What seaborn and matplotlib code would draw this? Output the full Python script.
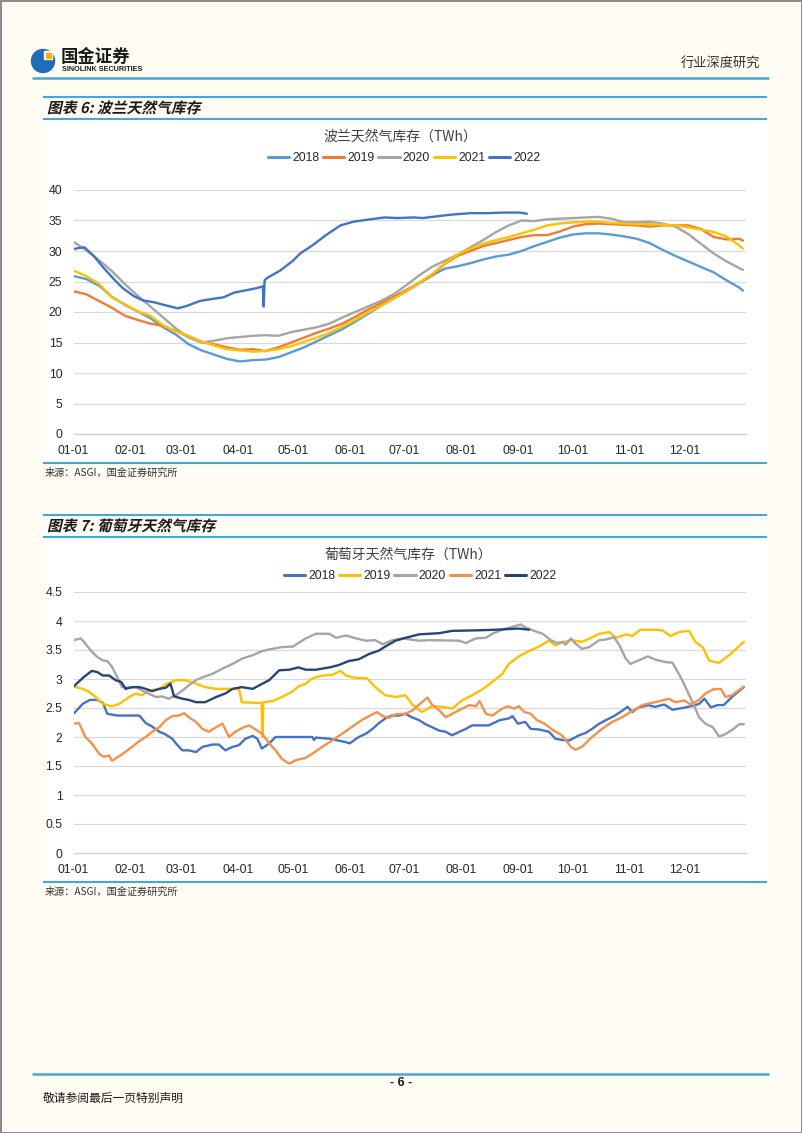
import matplotlib
matplotlib.use("Agg")
import matplotlib.pyplot as plt
import seaborn as sns
import pandas as pd
from matplotlib import font_manager
from matplotlib.font_manager import FontProperties
from matplotlib.lines import Line2D
from matplotlib.patches import Rectangle, Circle, PathPatch
from matplotlib.textpath import TextPath
from matplotlib.transforms import Affine2D

sns.set_theme(style="white")
CJK = "Noto Sans CJK SC"
plt.rcParams["font.family"] = [CJK, "DejaVu Sans"]
installed = {f.name for f in font_manager.fontManager.ttflist}
NUM = "Liberation Sans Narrow" if "Liberation Sans Narrow" in installed else "Liberation Sans"
NUM_SIZE = 10 if NUM.endswith("Narrow") else 8.8

# ---- x axis: day of year, ticks at month starts
month_days = [0, 31, 59, 90, 120, 151, 181, 212, 243, 273, 304, 334, 365]
month_labels = ["01-01", "02-01", "03-01", "04-01", "05-01", "06-01", "07-01",
                "08-01", "09-01", "10-01", "11-01", "12-01", ""]

# ---- 波兰 (Poland) storage, TWh, sampled every 7 days + year end
pl_days = list(range(0, 365, 7)) + [366]
pl_2018 = [25.9, 25.4, 24.3, 22.5, 21.2, 20.1, 19.0, 17.5, 16.3, 14.7, 13.7, 13.0, 12.3, 11.9,
           12.1, 12.2, 12.6, 13.4, 14.2, 15.2, 16.2, 17.2, 18.4, 19.7, 21.0, 22.2, 23.4, 24.7,
           26.0, 27.1, 27.5, 28.0, 28.6, 29.1, 29.4, 30.0, 30.8, 31.5, 32.2, 32.7, 32.9, 32.9,
           32.7, 32.4, 32.0, 31.3, 30.2, 29.2, 28.3, 27.4, 26.5, 25.2, 24.0, 23.5]
pl_2019 = [23.4, 22.9, 21.8, 20.7, 19.4, 18.7, 18.1, 17.7, 16.9, 15.9, 15.1, 14.7, 14.2, 13.8,
           13.9, 13.6, 14.2, 15.0, 15.8, 16.6, 17.3, 18.1, 19.2, 20.4, 21.4, 22.5, 23.6, 24.8,
           26.0, 27.9, 29.2, 30.0, 30.8, 31.3, 31.8, 32.3, 32.6, 32.6, 33.2, 34.0, 34.4, 34.5,
           34.4, 34.3, 34.2, 34.0, 34.2, 34.2, 34.2, 33.6, 32.3, 31.9, 32.0, 31.7]
pl_2020 = [31.5, 30.1, 28.5, 26.7, 24.6, 22.7, 20.9, 19.1, 17.3, 15.8, 15.0, 15.3, 15.7, 15.9,
           16.1, 16.2, 16.1, 16.7, 17.1, 17.5, 18.1, 19.1, 20.0, 20.9, 21.8, 22.9, 24.4, 26.0,
           27.4, 28.4, 29.4, 30.6, 31.8, 33.1, 34.2, 35.0, 34.9, 35.2, 35.3, 35.4, 35.5, 35.6,
           35.3, 34.7, 34.7, 34.8, 34.5, 34.0, 32.8, 31.2, 29.6, 28.3, 27.2, 26.9]
pl_2021 = [26.8, 25.9, 24.6, 22.4, 21.3, 20.1, 19.4, 17.8, 16.8, 16.1, 15.2, 14.5, 13.9, 13.7,
           13.5, 13.6, 13.9, 14.4, 15.1, 15.8, 16.6, 17.6, 18.7, 19.9, 21.0, 22.2, 23.4, 24.8,
           26.2, 28.0, 29.4, 30.4, 31.2, 31.8, 32.3, 32.9, 33.5, 34.2, 34.5, 34.7, 34.8, 34.8,
           34.6, 34.5, 34.4, 34.4, 34.3, 34.2, 33.9, 33.5, 33.1, 32.4, 30.9, 30.4]
pl_2022_days = [0, 3, 6, 11, 16, 22, 27, 33, 38, 44, 49, 53, 57, 62, 69, 77, 82, 88, 95, 100,
                103.5, 104, 104.5, 106, 113, 120, 124, 131, 138, 146, 153, 160, 170, 177, 186,
                191, 199, 208, 217, 226, 235, 244, 248]
pl_2022 = [30.3, 30.5, 30.6, 29.2, 27.4, 25.4, 23.9, 22.6, 21.9, 21.6, 21.2, 20.9, 20.6, 21.0,
           21.8, 22.2, 22.4, 23.2, 23.6, 23.9, 24.2, 20.9, 25.2, 25.6, 26.8, 28.4, 29.6, 31.0,
           32.6, 34.2, 34.8, 35.1, 35.5, 35.4, 35.5, 35.4, 35.7, 36.0, 36.2, 36.2, 36.3, 36.3, 36.1]

# ---- 葡萄牙 (Portugal) storage, TWh
pt_2018_days = [0, 5, 9, 13, 16, 18.5, 24, 30, 36, 39.5, 43, 47, 50, 54, 56, 59.5, 63, 67, 70.5,
                76, 79.5, 83, 87, 90.5, 94, 98, 100.5, 103, 107, 110.5, 120, 130.5, 131.5, 132.5,
                140, 149, 151, 156, 160, 163.5, 167, 171, 174, 178, 181.5, 185, 189, 192.5, 196,
                200, 203.5, 207, 211, 214.5, 218, 227, 233, 238, 240, 243, 247, 250, 254.5, 260,
                263.5, 267, 271, 276.5, 280, 283.5, 287.5, 291, 295.5, 299, 303, 305.5, 309,
                314.5, 318, 323, 327.5, 333, 337.5, 342, 345, 348.5, 352, 355.5, 360, 366.5]
pt_2018 = [2.40, 2.57, 2.64, 2.64, 2.59, 2.40, 2.37, 2.37, 2.37, 2.24, 2.18, 2.09, 2.05, 1.97,
           1.89, 1.77, 1.77, 1.74, 1.83, 1.87, 1.87, 1.77, 1.83, 1.86, 1.97, 2.02, 1.97, 1.80,
           1.89, 2.00, 2.00, 2.00, 1.95, 1.99, 1.97, 1.91, 1.89, 2.00, 2.06, 2.14, 2.24, 2.33,
           2.37, 2.37, 2.40, 2.34, 2.29, 2.22, 2.17, 2.11, 2.09, 2.03, 2.09, 2.14, 2.20, 2.20,
           2.29, 2.32, 2.36, 2.23, 2.26, 2.14, 2.13, 2.09, 1.97, 1.95, 1.94, 2.03, 2.07, 2.14,
           2.23, 2.29, 2.36, 2.43, 2.52, 2.43, 2.51, 2.55, 2.52, 2.56, 2.47, 2.50, 2.53, 2.57,
           2.66, 2.51, 2.55, 2.55, 2.69, 2.86]
pt_2019_days = [0, 5, 8.5, 12, 16, 21, 25, 30.5, 34, 37.5, 41, 47, 50.5, 56, 61, 67, 72, 78, 83,
                90.5, 92, 98, 102.8, 103.3, 103.8, 109, 114, 119.5, 123, 127, 130.5, 136, 141.5,
                146, 149, 154, 160.5, 165, 170.5, 176, 181.5, 185, 190.5, 196, 201.5, 207, 212.5,
                218, 223.5, 229, 234.5, 238, 243.5, 249, 254.5, 260, 263.5, 268, 272.5, 278, 283,
                287.5, 293, 296.5, 302, 305.5, 310, 316.5, 322, 326.5, 331, 336.5, 340, 344,
                347.5, 351, 353, 358.5, 366.5]
pt_2019 = [2.87, 2.83, 2.78, 2.69, 2.57, 2.53, 2.57, 2.69, 2.75, 2.72, 2.80, 2.83, 2.91, 2.98,
           2.98, 2.92, 2.86, 2.83, 2.83, 2.83, 2.60, 2.59, 2.59, 2.00, 2.60, 2.62, 2.69, 2.78,
           2.87, 2.92, 3.01, 3.06, 3.07, 3.14, 3.06, 3.02, 3.01, 2.86, 2.72, 2.69, 2.72, 2.57,
           2.43, 2.53, 2.52, 2.49, 2.63, 2.72, 2.82, 2.95, 3.09, 3.26, 3.39, 3.48, 3.56, 3.66,
           3.58, 3.64, 3.67, 3.64, 3.71, 3.78, 3.81, 3.71, 3.77, 3.74, 3.85, 3.85, 3.84, 3.74,
           3.81, 3.83, 3.64, 3.55, 3.32, 3.29, 3.28, 3.41, 3.64]
pt_2020_days = [0, 4, 6.5, 9.5, 13, 16, 18.5, 21, 24, 26.5, 30.5, 34, 37.5, 41, 45, 48.5, 52, 56,
                59.5, 63, 67, 70.5, 76, 81.5, 87, 92, 98, 103, 108.5, 114, 120, 127, 132.5, 140,
                143.5, 149, 154.5, 160, 165, 169, 174.5, 180, 189, 194.5, 211, 214.5, 220, 225.5,
                229, 234.5, 240, 244.5, 247, 251, 256.5, 261, 264.5, 267.5, 269, 272, 274.5, 278,
                282, 287.5, 291, 295.5, 298.5, 302, 304.5, 309, 314, 318.5, 324, 327.5, 332,
                335.5, 339.5, 342, 345.5, 349.5, 353, 356.5, 360.5, 364, 366.5]
pt_2020 = [3.67, 3.70, 3.61, 3.49, 3.38, 3.32, 3.31, 3.21, 3.03, 2.86, 2.85, 2.86, 2.80, 2.75,
           2.69, 2.70, 2.66, 2.72, 2.80, 2.89, 2.98, 3.03, 3.09, 3.18, 3.26, 3.35, 3.41, 3.48,
           3.52, 3.55, 3.56, 3.70, 3.78, 3.78, 3.71, 3.75, 3.70, 3.66, 3.67, 3.60, 3.67, 3.70,
           3.66, 3.67, 3.66, 3.62, 3.70, 3.71, 3.78, 3.85, 3.90, 3.94, 3.89, 3.84, 3.78, 3.67,
           3.62, 3.64, 3.59, 3.70, 3.61, 3.52, 3.55, 3.67, 3.68, 3.72, 3.58, 3.35, 3.26, 3.32,
           3.39, 3.33, 3.29, 3.28, 3.03, 2.80, 2.53, 2.34, 2.23, 2.17, 2.01, 2.05, 2.13, 2.22, 2.22]
pt_2021_days = [0, 3, 6.5, 10, 14, 16.5, 19.5, 21, 26.5, 32, 36, 39.5, 43, 47, 50.5, 54, 57.5,
                60.5, 63, 67, 70.5, 74, 78, 81.5, 85, 88.5, 92.5, 96, 99.5, 103, 107, 110.5, 114,
                118, 121.5, 127, 130.5, 136, 141.5, 147, 152.5, 158, 163.5, 166, 169, 172.5, 176,
                181.5, 185.5, 189, 193.5, 196, 200, 203.5, 207, 212.5, 216.5, 220, 222, 225.5,
                229, 234.5, 237.5, 241, 243.5, 246.5, 250, 253.5, 258, 262.5, 267, 272, 274.5,
                278, 283.5, 289, 294.5, 300, 305.5, 311, 316.5, 322, 325.5, 329, 334, 337.5, 342,
                345.5, 349.5, 354, 356.5, 360, 366.5]
pt_2021 = [2.23, 2.24, 2.00, 1.89, 1.71, 1.66, 1.68, 1.59, 1.70, 1.83, 1.93, 2.00, 2.09, 2.17,
           2.29, 2.36, 2.37, 2.41, 2.34, 2.26, 2.14, 2.09, 2.17, 2.23, 2.00, 2.09, 2.16, 2.20,
           2.13, 2.06, 1.89, 1.77, 1.62, 1.54, 1.60, 1.64, 1.71, 1.83, 1.94, 2.06, 2.18, 2.30,
           2.39, 2.43, 2.36, 2.33, 2.39, 2.40, 2.46, 2.56, 2.68, 2.56, 2.46, 2.34, 2.40, 2.49,
           2.55, 2.53, 2.62, 2.40, 2.37, 2.49, 2.53, 2.49, 2.53, 2.43, 2.40, 2.29, 2.22, 2.11,
           2.03, 1.83, 1.78, 1.83, 2.00, 2.14, 2.26, 2.34, 2.45, 2.55, 2.59, 2.63, 2.66, 2.60,
           2.63, 2.56, 2.64, 2.75, 2.82, 2.83, 2.69, 2.72, 2.87]
pt_2022_days = [0, 5.5, 10, 13, 16, 19.5, 23, 26, 28.5, 32, 36, 39.5, 43, 47, 50.5, 53, 55, 59.5,
                63, 67, 72, 78, 83, 87, 92, 98, 101.5, 107, 112.5, 118, 123, 127, 132.5, 140, 145,
                150.5, 156, 161.5, 167, 170.5, 176, 181.5, 189, 200, 207, 222, 231, 243.5, 249]
pt_2022 = [2.87, 3.03, 3.14, 3.12, 3.06, 3.06, 2.98, 2.95, 2.83, 2.86, 2.86, 2.83, 2.79, 2.83,
           2.85, 2.92, 2.70, 2.66, 2.64, 2.60, 2.60, 2.69, 2.75, 2.83, 2.86, 2.83, 2.89, 2.98,
           3.15, 3.16, 3.20, 3.16, 3.16, 3.20, 3.24, 3.31, 3.34, 3.43, 3.49, 3.56, 3.66, 3.71,
           3.77, 3.79, 3.83, 3.84, 3.85, 3.87, 3.85]

years = ["2018", "2019", "2020", "2021", "2022"]
pl_colors = ["#5B9BD5", "#ED7D31", "#A5A5A5", "#FFC000", "#4472C4"]
pt_colors = ["#4472C4", "#FFC000", "#A5A5A5", "#F4914A", "#264478"]


def long_frame(series):
    parts = [pd.DataFrame({"day": d, "value": v, "year": y}) for y, d, v in series]
    return pd.concat(parts, ignore_index=True)


pl_df = long_frame([("2018", pl_days, pl_2018), ("2019", pl_days, pl_2019),
                    ("2020", pl_days, pl_2020), ("2021", pl_days, pl_2021),
                    ("2022", pl_2022_days, pl_2022)])
pt_df = long_frame([("2018", pt_2018_days, pt_2018), ("2019", pt_2019_days, pt_2019),
                    ("2020", pt_2020_days, pt_2020), ("2021", pt_2021_days, pt_2021),
                    ("2022", pt_2022_days, pt_2022)])

# ---- page in pixel coordinates
W, H = 802, 1133
fig = plt.figure(figsize=(W / 100, H / 100), dpi=100)
fig.patch.set_facecolor("#FFFCF3")
page = fig.add_axes([0, 0, 1, 1])
page.set_xlim(0, W)
page.set_ylim(H, 0)
page.axis("off")
page.set_zorder(0)

BLUE = "#45A7D9"
TXT = "#262626"


def hline(y, x0, x1, lw=1.5):
    page.plot([x0, x1], [y, y], color=BLUE, lw=lw, solid_capstyle="butt")


def skew_text(x, y, s, size_px):
    fp = FontProperties(family=CJK, weight="bold")
    tp = TextPath((0, 0), s, size=size_px, prop=fp)
    tr = Affine2D().skew_deg(13, 0).scale(1, -1).translate(x, y) + page.transData
    page.add_patch(PathPatch(tp, transform=tr, fc="#1A1A1A", ec="none"))


page.add_patch(Rectangle((0.5, 0.5), W - 1, H - 1, fill=False, ec="#808080", lw=1.3))

# header
page.add_patch(Circle((43, 61), 11.5, color="#1F6DB5"))
page.add_patch(Rectangle((44, 51), 8, 8, color="#FFFFFF"))
page.add_patch(Rectangle((46, 53), 5, 5, color="#F5B400"))
page.text(61, 57, "国金证券", fontsize=12.5, fontweight="bold", color="#1A1A1A", va="center")
page.text(62, 69.5, "SINOLINK SECURITIES", fontsize=5.2, fontweight="bold", family="Liberation Sans",
          color="#1A1A1A", va="center")
page.text(760, 64, "行业深度研究", fontsize=9.5, color="#333333", ha="right", va="center")
hline(77.5, 32, 769, lw=1.8)

# footer
hline(1074, 32, 769, lw=1.8)
page.text(401, 1083, "- 6 -", fontsize=9, fontweight="bold", family="Liberation Sans",
          ha="center", va="center", color="#1A1A1A")
page.text(43, 1098, "敬请参阅最后一页特别声明", fontsize=8.5, color="#1A1A1A", va="center")


def panel(top_line, fig_title, chart_title, title_x, legend_x, src_line, ax_top, ax_bot,
          df, colors, ymax, ystep):
    hline(top_line, 43, 767)
    skew_text(47, top_line + 16, fig_title, 14.8)
    hline(top_line + 21.5, 43, 767)
    page.add_patch(Rectangle((46, top_line + 22), 721, src_line - top_line - 22,
                             color="white", zorder=0))
    hline(src_line, 43, 767)
    page.text(45, src_line + 10, "来源：ASGI，国金证券研究所", fontsize=7.3, color="#333333",
              va="center")
    page.text(title_x, top_line + 40, chart_title, fontsize=10, color="#404040",
              ha="center", va="center")

    ax = fig.add_axes([73.5 / W, 1 - ax_bot / H, (746 - 73.5) / W, (ax_bot - ax_top) / H])
    ax.set_zorder(1)
    ax.set_facecolor("none")
    sns.lineplot(data=df, x="day", y="value", hue="year", hue_order=years,
                 palette=colors, estimator=None, sort=False, lw=1.7, legend=False, ax=ax)
    ax.set_xlim(0, 367.7)
    ax.set_ylim(0, ymax)
    yt = [i * ystep for i in range(int(round(ymax / ystep)) + 1)]
    ax.set_yticks(yt)
    ax.set_yticklabels([f"{v:g}" for v in yt], fontfamily=NUM, fontsize=NUM_SIZE, color=TXT)
    ax.set_xticks(month_days)
    ax.set_xticklabels(month_labels, fontfamily=NUM, fontsize=NUM_SIZE, color=TXT)
    ax.grid(axis="y", color="#D9D9D9", lw=0.9)
    ax.grid(axis="x", visible=False)
    ax.set_axisbelow(True)
    for s in ["top", "right", "left"]:
        ax.spines[s].set_visible(False)
    ax.spines["bottom"].set_color("#D0D0D0")
    ax.spines["bottom"].set_linewidth(0.9)
    ax.tick_params(axis="x", length=4, width=0.9, color="#C8C8C8", direction="out", pad=4)
    ax.tick_params(axis="y", length=0, pad=8)
    ax.set_xlabel("")
    ax.set_ylabel("")

    handles = [Line2D([], [], color=c, lw=2.2) for c in colors]
    fig.legend(handles, years, loc="center", bbox_to_anchor=(legend_x / W, 1 - (top_line + 61) / H),
               ncol=5, frameon=False, handlelength=1.75, handletextpad=0.25, columnspacing=0.3,
               prop=FontProperties(family=NUM, size=NUM_SIZE))
    return ax


panel(97, "图表 6: 波兰天然气库存", "波兰天然气库存（TWh）", 400, 404, 463, 190, 434,
      pl_df, pl_colors, 40, 5)
panel(515, "图表 7: 葡萄牙天然气库存", "葡萄牙天然气库存（TWh）", 408, 420, 882, 592, 853,
      pt_df, pt_colors, 4.5, 0.5)

fig.savefig("out.png", dpi=100, facecolor=fig.get_facecolor())
